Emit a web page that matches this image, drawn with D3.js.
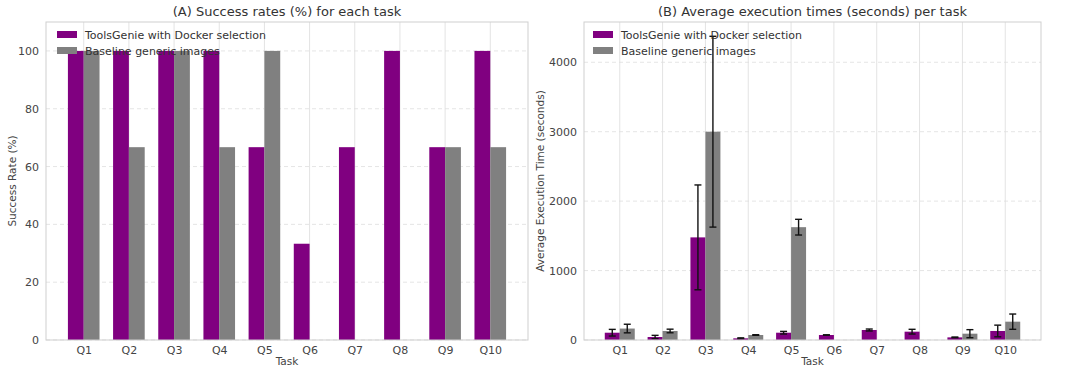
<!DOCTYPE html>
<html>
<head>
<meta charset="utf-8">
<script src="https://cdnjs.cloudflare.com/ajax/libs/d3/7.8.5/d3.min.js"></script>
<style>
  body { margin: 0; background: #fff; }
  svg text { font-family: "DejaVu Sans", sans-serif; }
</style>
</head>
<body>
<div id="chart"></div>
<script>
// task names along the x axis
var tasks = ["Q1", "Q2", "Q3", "Q4", "Q5", "Q6", "Q7", "Q8", "Q9", "Q10"];
var seriesNames = ["ToolsGenie with Docker selection", "Baseline generic images"];

// (A) success rates
var successGenie = [100, 100, 100, 100, 66.7, 33.3, 66.7, 100, 66.7, 100];
var successBase = [100, 66.7, 100, 66.7, 100, 0, 0, 0, 66.7, 66.7];
var successTicks = [0, 20, 40, 60, 80, 100];

// (B) average execution times and their std
var timeGenie = [105, 43, 1478, 24, 105, 72, 144, 120, 38, 130];
var timeGenieErr = [48, 24, 755, 7, 19, 3, 14, 34, 5, 84];
var timeBase = [165, 130, 3000, 72, 1625, 0, 0, 0, 91, 264];
var timeBaseErr = [62, 26, 1374, 4, 113, 0, 0, 0, 58, 110];
var timeTicks = [0, 1000, 2000, 3000, 4000];

var colors = ["#800080", "#808080"];
var textColor = "#444";

var svg = d3.select("#chart")
  .append("svg")
  .attr("width", 1080)
  .attr("height", 374);

//draws one panel with grouped bars
function panel(opts) {
  var margin = opts.margin;
  var width = opts.right - margin.left;
  var height = opts.bottom - margin.top;
  var barW = 0.35;

  var g = svg.append("g")
    .attr("transform", "translate(" + margin.left + "," + margin.top + ")");

  // linear x like matplotlib: bars span -0.35..9.35, plus 5% padding
  var pad = (tasks.length - 1 + 2 * barW) * 0.05;
  var x = d3.scaleLinear()
    .domain([-barW - pad, tasks.length - 1 + barW + pad])
    .range([0, width]);
  var y = d3.scaleLinear().domain(opts.yDomain).range([height, 0]);

  // vertical grid
  g.selectAll(".vgrid")
    .data(tasks)
    .enter().append("line")
    .attr("x1", function(d, i) { return x(i); })
    .attr("x2", function(d, i) { return x(i); })
    .attr("y1", 0)
    .attr("y2", height)
    .attr("stroke", "#e3e3e3")
    .attr("stroke-width", 1);

  // horizontal dashed grid
  g.selectAll(".hgrid")
    .data(opts.ticks)
    .enter().append("line")
    .attr("x1", 0)
    .attr("x2", width)
    .attr("y1", function(d) { return y(d); })
    .attr("y2", function(d) { return y(d); })
    .attr("stroke", "#dedede")
    .attr("stroke-dasharray", "4,3")
    .attr("stroke-width", 0.8);

  var series = [opts.a, opts.b];
  var errs = [opts.aErr, opts.bErr];

  series.forEach(function(vals, s) {
    var off = s === 0 ? -barW : 0;
    g.append("g").selectAll("rect")
      .data(vals)
      .enter().append("rect")
      .attr("x", function(d, i) { return x(i + off); })
      .attr("width", x(barW) - x(0))
      .attr("y", function(d) { return y(d); })
      .attr("height", function(d) { return y(0) - y(d); })
      .attr("fill", colors[s]);
  });

  // error bars
  if (errs[0]) {
    series.forEach(function(vals, s) {
      var cx = function(i) { return x(i + (s === 0 ? -barW / 2 : barW / 2)); };
      var eg = g.append("g");
      vals.forEach(function(v, i) {
        if (!v) return;
        var lo = y(v - errs[s][i]), hi = y(v + errs[s][i]);
        eg.append("line")
          .attr("x1", cx(i)).attr("x2", cx(i))
          .attr("y1", lo).attr("y2", hi)
          .attr("stroke", "#111").attr("stroke-width", 1.4);
        [lo, hi].forEach(function(yy) {
          eg.append("line")
            .attr("x1", cx(i) - 3.5).attr("x2", cx(i) + 3.5)
            .attr("y1", yy).attr("y2", yy)
            .attr("stroke", "#111").attr("stroke-width", 1.4);
        });
      });
    });
  }

  // frame
  g.append("rect")
    .attr("width", width)
    .attr("height", height)
    .attr("fill", "none")
    .attr("stroke", "#cfcfcf")
    .attr("stroke-width", 1);

  // axes without tick marks
  var xAxis = g.append("g")
    .attr("transform", "translate(0," + height + ")")
    .call(d3.axisBottom(x).tickValues(d3.range(tasks.length))
      .tickFormat(function(i) { return tasks[i]; }).tickSize(0).tickPadding(6));
  var yAxis = g.append("g")
    .call(d3.axisLeft(y).tickValues(opts.ticks).tickFormat(d3.format("d"))
      .tickSize(0).tickPadding(7));
  [xAxis, yAxis].forEach(function(ax) {
    ax.select(".domain").remove();
    ax.selectAll("text")
      .attr("fill", textColor)
      .style("font-size", "11px")
      .style("font-family", "DejaVu Sans, sans-serif");
  });

  // title and labels
  g.append("text")
    .attr("x", width / 2)
    .attr("y", -6)
    .attr("text-anchor", "middle")
    .attr("fill", "#333")
    .style("font-size", "13px")
    .text(opts.title);
  g.append("text")
    .attr("x", width / 2)
    .attr("y", height + 25)
    .attr("text-anchor", "middle")
    .attr("fill", textColor)
    .style("font-size", "10.5px")
    .text("Task");
  g.append("text")
    .attr("transform", "translate(" + opts.yLabelX + "," + height / 2 + ") rotate(-90)")
    .attr("text-anchor", "middle")
    .attr("fill", textColor)
    .style("font-size", "10.5px")
    .text(opts.yLabel);

  // legend, no frame
  var lg = g.append("g").attr("transform", "translate(" + opts.legendX + ",9)");
  seriesNames.forEach(function(n, s) {
    lg.append("rect")
      .attr("x", 0)
      .attr("y", s * 16)
      .attr("width", 20)
      .attr("height", 7)
      .attr("fill", colors[s]);
    lg.append("text")
      .attr("x", 28)
      .attr("y", s * 16 + 7.5)
      .attr("fill", "#333")
      .style("font-size", "11px")
      .text(n);
  });
}

panel({
  margin: { left: 46, top: 22 },
  right: 528, bottom: 340,
  yDomain: [0, 110], ticks: successTicks,
  a: successGenie, b: successBase,
  title: "(A) Success rates (%) for each task",
  yLabel: "Success Rate (%)", yLabelX: -30,
  legendX: 11
});

panel({
  margin: { left: 584, top: 22 },
  right: 1041, bottom: 340,
  yDomain: [0, 4580], ticks: timeTicks,
  a: timeGenie, b: timeBase, aErr: timeGenieErr, bErr: timeBaseErr,
  title: "(B) Average execution times (seconds) per task",
  yLabel: "Average Execution Time (seconds)", yLabelX: -40,
  legendX: 9
});
</script>
</body>
</html>
